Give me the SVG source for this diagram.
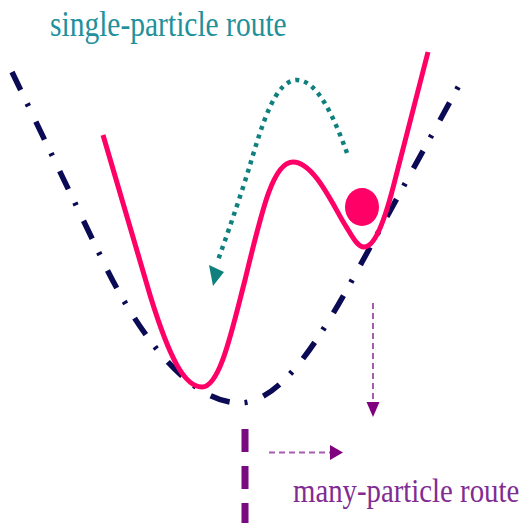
<svg xmlns="http://www.w3.org/2000/svg" width="528" height="523" viewBox="0 0 528 523">
<style>
.lbl{font-family:"Liberation Serif","Times New Roman",serif}
.teal{fill:#22909a}
.purp{fill:#812c92}
.env{fill:none;stroke:#0a0a55;stroke-width:5.5;stroke-dasharray:20 15 3 17}
.pot{fill:none;stroke:#ff0066;stroke-width:5;stroke-linejoin:round}
.hop{fill:none;stroke:#10807e;stroke-width:4.5;stroke-dasharray:4 5}
.thin{fill:none;stroke:#a85cb0;stroke-width:2;stroke-dasharray:6 4}
.axis{fill:none;stroke:#7a0a80;stroke-width:7;stroke-dasharray:23 14}
</style>
<rect width="528" height="523" fill="#ffffff"/>
<g id="label-single">
<text class="lbl teal" font-size="29.5" transform="translate(50,36) scale(1,1.2)">single-particle route</text>
</g>
<g id="label-many">
<text class="lbl purp" font-size="28.8" transform="translate(293,502) scale(1,1.2)">many-particle route</text>
</g>
<g id="envelope">
<path class="env" d="M12,72 L100,255 C140,340 190,400 237,403 C280,405 320,340 362,262 L462,80"/>
</g>
<g id="potential">
<path class="pot" d="M103,135 L150,295 C170,360 185,387 202,387 C220,387 232,330 245,280 C262,210 273,162 293,162 C315,162 335,210 347,228 C353,238 358,247 364,247 C375,247 385,220 395,180 L428,52"/>
</g>
<g id="particle">
<ellipse cx="362" cy="207" rx="17" ry="19" fill="#ff0066"/>
</g>
<g id="axis">
<path class="axis" d="M245,429 L245,523"/>
</g>
<g id="connectors">
<path class="hop" d="M347,153 C335,120 318,80 297,80 C275,80 262,125 250,165 C240,198 226,238 218,260"/>
<polygon points="209,265 224,272 213,286" fill="#10807e"/>
<path class="thin" d="M373,303 L373,403"/>
<polygon points="366.5,402 379.5,402 373,417" fill="#800080"/>
<path class="thin" d="M269,452.5 L331,452.5"/>
<polygon points="330,445 330,460 343,452.5" fill="#800080"/>
</g>
</svg>
